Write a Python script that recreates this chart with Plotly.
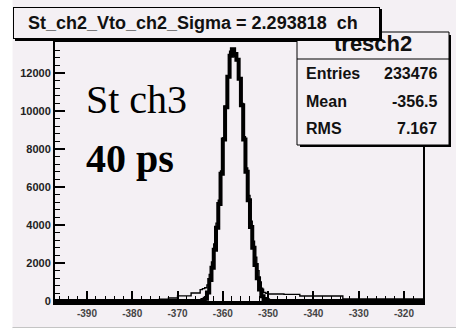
import plotly.graph_objects as go

# ---------------- data ----------------
x_range = [-397.05, -315.8]
y_range = [0, 13630]

# thick histogram: core bins (0.5 ch wide), zero outside
thick_core_lo = -364.5
thick_bin = 0.5
thick_core = [50, 120, 450, 1100, 1750, 2700, 3850, 5100, 6700, 8500, 10200,
              11800, 12900, 13250, 13000, 12700, 11700, 10300, 8500, 6800,
              5300, 3900, 2800, 1900, 1200, 600, 250, 100, 40]

# thin histogram: tails (variable-width bins) + core (0.5 ch bins)
thin_left_edges = [-397.0, -374.0, -372.0, -370.0, -367.0, -365.0]
thin_left_counts = [40, 90, 160, 270, 420, 600]
thin_core = [650, 700, 850, 1400, 2050, 3000, 4100, 5300, 6850, 8600, 10250,
             11850, 13150, 13100, 12850, 12650, 11750, 10400, 8650, 7000,
             5550, 4200, 3150, 2300, 1600, 1000, 620, 450, 400]
thin_right_edges = [-350.0, -346.5, -343.0, -333.5]
thin_right_counts = [370, 350, 260, 110]

y_tick_vals = [0, 2000, 4000, 6000, 8000, 10000, 12000]
x_tick_vals = [-390, -380, -370, -360, -350, -340, -330, -320]
x_tick_labels = ["-390", "-380", "-370", "-360", "-350", "-340", "-330", "-320"]

title_text = "St_ch2_Vto_ch2_Sigma = 2.293818  ch"
stats_name = "tresch2"
stats_rows = [("Entries", "233476"), ("Mean", "-356.5"), ("RMS", "7.167")]
note_1 = "St ch3"
note_2 = "40 ps"

# ---------------- build step arrays ----------------
core_edges = [thick_core_lo + i * thick_bin for i in range(len(thick_core) + 1)]

thick_x = [x_range[0]] + core_edges + [x_range[1]]
thick_y = [0] + thick_core + [0, 0]

thin_x = thin_left_edges + core_edges[:-1] + thin_right_edges + [x_range[1]]
thin_y = thin_left_counts + thin_core + thin_right_counts + [thin_right_counts[-1]]

BG = "#f4f0f4"
W, H = 456, 330
L, R, T, B = 55, 423, 42, 301

def fx(p):
    return (p - L) / (R - L)

def fy(p):
    return (B - p) / (B - T)

fig = go.Figure()
fig.add_trace(go.Scatter(x=thick_x, y=thick_y, mode="lines", line_shape="hv",
                         line=dict(color="black", width=4), hoverinfo="skip"))
fig.add_trace(go.Scatter(x=thin_x, y=thin_y, mode="lines", line_shape="hv",
                         line=dict(color="black", width=1.4), hoverinfo="skip"))

shapes = []
shapes.append(dict(type="rect", xref="paper", yref="paper", x0=fx(0), x1=fx(12.5),
                   y0=fy(0), y1=fy(330), fillcolor="white", line=dict(width=0), layer="below"))
shapes.append(dict(type="rect", xref="paper", yref="paper", x0=fx(12.5), x1=fx(456),
                   y0=fy(328), y1=fy(330), fillcolor="white", line=dict(width=0), layer="below"))
shapes.append(dict(type="line", xref="paper", yref="paper", x0=fx(12.5), x1=fx(456),
                   y0=fy(327.5), y1=fy(327.5), line=dict(color="#c4c4c4", width=1)))
# stats box
shapes.append(dict(type="rect", xref="paper", yref="paper", x0=fx(300), x1=fx(451),
                   y0=fy(35), y1=fy(147), fillcolor="black", line=dict(width=0)))
shapes.append(dict(type="rect", xref="paper", yref="paper", x0=fx(297), x1=fx(449),
                   y0=fy(32), y1=fy(145), fillcolor=BG, line=dict(color="black", width=1)))
shapes.append(dict(type="line", xref="paper", yref="paper", x0=fx(297), x1=fx(449),
                   y0=fy(59), y1=fy(59), line=dict(color="black", width=1)))

ann = []
ann.append(dict(text=f"<b>{stats_name}</b>", x=fx(373), y=fy(44), xref="paper", yref="paper",
                xanchor="center", yanchor="middle", showarrow=False,
                font=dict(family="Liberation Sans", size=22, color="#111")))
for i, (k, v) in enumerate(stats_rows):
    yy = [73, 101, 128][i]
    ann.append(dict(text=f"<b>{k}</b>", x=fx(304), y=fy(yy), xref="paper", yref="paper",
                    xanchor="left", yanchor="middle", showarrow=False,
                    font=dict(family="Liberation Sans", size=16, color="#111")))
    ann.append(dict(text=f"<b>{v}</b>", x=fx(439), y=fy(yy), xref="paper", yref="paper",
                    xanchor="right", yanchor="middle", showarrow=False,
                    font=dict(family="Liberation Sans", size=16, color="#111")))
# title box: shadow then box (annotations so they cover the stats header)
ann.append(dict(text=" ", x=fx(15), y=fy(9), xref="paper", yref="paper",
                xanchor="left", yanchor="top", showarrow=False, width=367, height=32,
                bgcolor="black", borderpad=0, borderwidth=0))
ann.append(dict(text=" ", x=fx(13), y=fy(7), xref="paper", yref="paper",
                xanchor="left", yanchor="top", showarrow=False, width=365, height=30,
                bgcolor=BG, bordercolor="black", borderwidth=1, borderpad=0))
ann.append(dict(text=f"<b>{title_text}</b>", x=fx(26), y=fy(23), xref="paper", yref="paper",
                xanchor="left", yanchor="middle", showarrow=False,
                font=dict(family="Liberation Sans", size=18, color="#111")))
ann.append(dict(text=note_1, x=fx(84), y=fy(99), xref="paper", yref="paper",
                xanchor="left", yanchor="middle", showarrow=False,
                font=dict(family="Liberation Serif", size=40, color="black")))
ann.append(dict(text=f"<b>{note_2}</b>", x=fx(84), y=fy(158), xref="paper", yref="paper",
                xanchor="left", yanchor="middle", showarrow=False,
                font=dict(family="Liberation Serif", size=40, color="black")))

fig.update_layout(
    width=W, height=H, margin=dict(l=L, r=W - R, t=T, b=H - B, pad=0),
    paper_bgcolor=BG, plot_bgcolor=BG, showlegend=False,
    shapes=shapes, annotations=ann,
)
fig.update_xaxes(range=x_range, showgrid=False, zeroline=False, showline=True,
                 linecolor="black", linewidth=4, mirror=True,
                 ticks="inside", ticklen=10, tickwidth=1.5, tickcolor="black",
                 tickvals=x_tick_vals, ticktext=x_tick_labels,
                 tickfont=dict(family="Liberation Sans", size=10, color="#444", weight="bold"),
                 minor=dict(dtick=2, tick0=-390, ticks="inside", ticklen=5, tickwidth=1.2,
                            tickcolor="black"))
fig.update_yaxes(range=y_range, showgrid=False, zeroline=False, showline=True,
                 linecolor="black", linewidth=2, mirror=True,
                 ticks="inside", ticklen=10, tickwidth=1.5, tickcolor="black",
                 tickvals=y_tick_vals, ticktext=[str(v) for v in y_tick_vals],
                 tickfont=dict(family="Liberation Sans", size=11, color="#222", weight="bold"),
                 minor=dict(dtick=400, tick0=0, ticks="inside", ticklen=5, tickwidth=1.2,
                            tickcolor="black"))

fig.write_html("out.html")
